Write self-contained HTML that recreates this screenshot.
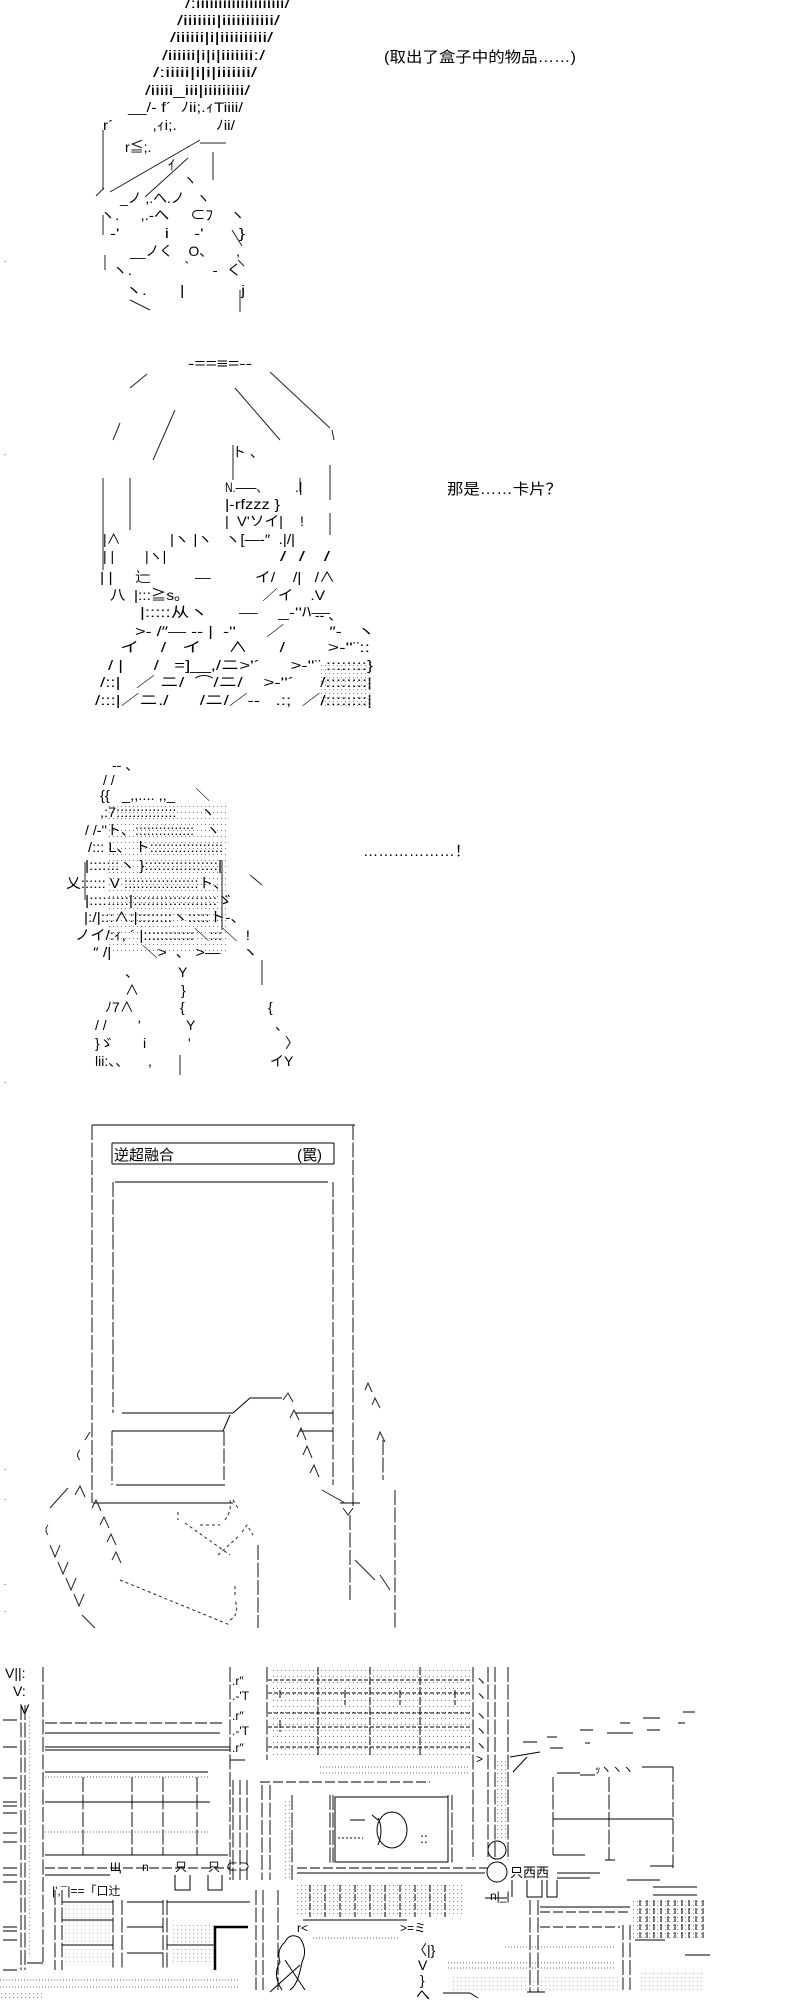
<!DOCTYPE html>
<html><head><meta charset="utf-8"><style>
html,body{margin:0;padding:0;background:#fff;width:800px;height:2000px;overflow:hidden}
svg{display:block}
text{font-family:"Liberation Sans","Noto Sans CJK SC",sans-serif;font-size:14px;fill:#000;stroke:none;white-space:pre}
.t{font-size:15px}
</style></head><body>
<svg width="800" height="2000" viewBox="0 0 800 2000" xmlns="http://www.w3.org/2000/svg">
<defs>
<pattern id="dt" width="4" height="6" patternUnits="userSpaceOnUse"><rect x="1" y="2" width="1" height="1" fill="#777"/></pattern>
<pattern id="dt2" width="4" height="4" patternUnits="userSpaceOnUse"><rect x="1" y="1" width="1" height="1" fill="#888"/></pattern>
</defs>
<g fill="none" stroke="#000" stroke-width="1">

<!-- ===== PANEL 1 ===== -->
<g stroke="#222">
<path d="M103 130 V190 M110 192 L200 140 M145 197 L188 158 M200 143 H226 M213 152 V180 M96 196 L104 188 M103 215 V235 M105 255 V270 M130 300 L150 310 M240 290 V312 M238 260 L244 266 M232 230 L242 246"/>
</g>
<text x="185" y="8" textLength="105" lengthAdjust="spacingAndGlyphs">/:iiiiiiiiiiiiiiiiiiii/</text>
<text x="177" y="25" textLength="103" lengthAdjust="spacingAndGlyphs">/iiiiiii|iiiiiiiiiii/</text>
<text x="170" y="42" textLength="103" lengthAdjust="spacingAndGlyphs">/iiiiii|i|iiiiiiiiii/</text>
<text x="162" y="60" textLength="103" lengthAdjust="spacingAndGlyphs">/iiiiii|i|i|iiiiiii:/</text>
<text x="153" y="77" textLength="104" lengthAdjust="spacingAndGlyphs">/:iiiii|i|i|iiiiiii/</text>
<text x="145" y="95" textLength="105" lengthAdjust="spacingAndGlyphs">/iiiii_iii|iiiiiiiii/</text>
<text x="128" y="112" textLength="115" lengthAdjust="spacingAndGlyphs">__/‐ f´  ﾉii;.ｨTiiii/</text>
<text x="103" y="130" textLength="132" lengthAdjust="spacingAndGlyphs">r´         ,ｨi;.         ﾉii/</text>
<text x="125" y="152">r≦;.</text>
<text x="168" y="170">ｲ</text>
<text x="183" y="185">ヽ</text>
<text x="120" y="203" textLength="90" lengthAdjust="spacingAndGlyphs">_ノ ,.へ.ノ   ヽ</text>
<text x="100" y="220" textLength="145" lengthAdjust="spacingAndGlyphs">ヽ.     ,.-へ     ⊂ﾌ    ヽ</text>
<text x="110" y="238" textLength="135" lengthAdjust="spacingAndGlyphs">-'         i     -'       }</text>
<text x="130" y="256" textLength="110" lengthAdjust="spacingAndGlyphs">__ノく    O、      ,</text>
<text x="112" y="275" textLength="130" lengthAdjust="spacingAndGlyphs">ヽ.           ｀    ‐  く</text>
<text x="125" y="295" textLength="120" lengthAdjust="spacingAndGlyphs">ヽ.       |            j</text>
<text x="4" y="262" style="font-size:8px">.</text>
<text class="t" x="384" y="62" textLength="192" lengthAdjust="spacingAndGlyphs">(取出了盒子中的物品……)</text>

<!-- ===== PANEL 2 ===== -->
<g stroke="#222">
<path d="M130 388 L147 374 M113 440 L120 423 M153 460 L175 410 M235 388 L280 440 M270 372 L330 428 M332 430 L334 440"/>
<path d="M103 478 V570 M130 478 V530 M233 445 V480 M330 465 V500 M330 513 V535 M300 478 V492"/>
</g>
<text x="188" y="368" textLength="64" lengthAdjust="spacingAndGlyphs">-==≡=--</text>
<text x="232" y="457">ト 、</text>
<text x="225" y="492" textLength="42" lengthAdjust="spacingAndGlyphs">N.――、</text>
<text x="295" y="492">.|</text>
<text x="225" y="509" textLength="55" lengthAdjust="spacingAndGlyphs">|‐rfzzz }</text>
<text x="225" y="526" textLength="58" lengthAdjust="spacingAndGlyphs">|  V'ソイ|</text>
<text x="300" y="526">!</text>
<text x="103" y="544">|∧</text>
<text x="170" y="544" textLength="125" lengthAdjust="spacingAndGlyphs">|ヽ |ヽ   ヽ[―‐″  .|/|</text>
<text x="103" y="561">| |</text>
<text x="145" y="561">|ヽ|</text>
<text x="280" y="561" textLength="50" lengthAdjust="spacingAndGlyphs">/  /   /</text>
<text x="100" y="582" textLength="235" lengthAdjust="spacingAndGlyphs">| |     辷          ―          イ/    /|   /∧</text>
<text x="110" y="600" textLength="215" lengthAdjust="spacingAndGlyphs">八  |:::≧s。                 ／イ    .V</text>
<text x="140" y="617" textLength="190" lengthAdjust="spacingAndGlyphs">|:::::从ヽ      ―    _‐''ﾊ―</text>
<text x="315" y="620">‐‐ 、</text>
<text x="135" y="636" textLength="240" lengthAdjust="spacingAndGlyphs">>‐ /″― ‐‐ |  ‐''      ／         ″‐   ヽ</text>
<text x="120" y="652" textLength="250" lengthAdjust="spacingAndGlyphs">イ    /   イ     ∧      /        >‐''¨::</text>
<text x="108" y="670" textLength="265" lengthAdjust="spacingAndGlyphs">/ |      /   =]__,/ニ>'´      >‐''¨ ::::::::}</text>
<text x="100" y="687" textLength="272" lengthAdjust="spacingAndGlyphs">/::|   ／ ニ/  ⌒/ニ/    >‐''´     /::::::::|</text>
<text x="95" y="705" textLength="277" lengthAdjust="spacingAndGlyphs">/:::|／ニ./      /ニ/／‐‐   .:;  ／/::::::::|</text>
<rect x="320" y="663" width="52" height="45" fill="url(#dt2)" stroke="none"/>
<text x="4" y="455" style="font-size:8px">.</text>
<text class="t" x="447" y="494" textLength="115" lengthAdjust="spacingAndGlyphs">那是……卡片？</text>

<!-- ===== PANEL 3 ===== -->
<rect x="108" y="805" width="120" height="150" fill="url(#dt)" stroke="none"/>
<g stroke="#222"><path d="M85 862 V900 M222 860 V930 M250 875 L262 885 M262 960 V985 M180 1055 V1075"/></g>
<text x="112" y="770">‐‐ 、</text>
<text x="103" y="785">/ /</text>
<text x="100" y="800" textLength="110" lengthAdjust="spacingAndGlyphs">{{   _,,.... ,,_     ＼</text>
<text x="100" y="817" textLength="115" lengthAdjust="spacingAndGlyphs">,:7:::::::::::::::      ヽ</text>
<text x="85" y="835" textLength="135" lengthAdjust="spacingAndGlyphs">/ /‐''ト、:::::::::::::::   ヽ</text>
<text x="88" y="852" textLength="135" lengthAdjust="spacingAndGlyphs">/::: L、 ト::::::::::::::::::</text>
<text x="85" y="870" textLength="137" lengthAdjust="spacingAndGlyphs">|:::::::ヽ }:::::::::::::::::|</text>
<text x="66" y="888" textLength="162" lengthAdjust="spacingAndGlyphs">乂:::::: V ::::::::::::::::::ト、</text>
<text x="85" y="905" textLength="148" lengthAdjust="spacingAndGlyphs">|:::::::::|:::::::::::::::::::ゞ</text>
<text x="84" y="922" textLength="162" lengthAdjust="spacingAndGlyphs">|:/|:::∧:|::::::::ヽ:::::ト‐、</text>
<text x="75" y="940" textLength="175" lengthAdjust="spacingAndGlyphs">ノイ/:ｨ, ´ |::::::::::::＼:::＼  !</text>
<text x="93" y="957" textLength="165" lengthAdjust="spacingAndGlyphs">″ /|       ＼>  、 >―     ヽ</text>
<text x="125" y="977">、</text><text x="178" y="977">Y</text>
<text x="125" y="995">∧</text><text x="181" y="995">}</text>
<text x="105" y="1012">ﾉ7∧</text><text x="180" y="1012">{</text><text x="268" y="1012">{</text>
<text x="95" y="1030">/ /</text><text x="138" y="1030">'</text><text x="186" y="1030">Y</text><text x="275" y="1030">、</text>
<text x="95" y="1048">}ゞ</text><text x="143" y="1048">i</text><text x="188" y="1048">'</text><text x="285" y="1048">〉</text>
<text x="95" y="1066">lii:、、</text><text x="148" y="1066">,</text><text x="270" y="1066">イY</text>
<text x="4" y="1083" style="font-size:8px">.</text>
<text class="t" x="363" y="856" textLength="107" lengthAdjust="spacingAndGlyphs">………………！</text>

<!-- ===== PANEL 4 ===== -->
<g stroke="#111" stroke-dasharray="15 2.5">
<path d="M92 1125 V1503 M353 1125 V1506 M113 1182 V1413 M333 1182 V1485 M112 1431 V1485 M224 1431 V1480 M350 1515 V1600 M395 1490 V1628 M258 1545 V1628 M383 1440 V1480"/>
</g>
<path d="M92 1125 H355 M112 1143 H334 M112 1164 H334 M112 1143 V1164 M334 1143 V1164 M115 1182 H328 M122 1413 H233 L250 1398 H282 M295 1413 H333 M112 1431 H223 L230 1415 M116 1485 H225 M300 1431 H333 M93 1503 H233 M340 1503 H360"/>
<text class="t" x="114" y="1160">逆超融合</text>
<text class="t" x="297" y="1160">(罠)</text>
<g stroke="#222">
<path d="M283 1400 L288 1393 L293 1402 M290 1418 L294 1410 L299 1420 M297 1437 L301 1428 L306 1440 M303 1455 L307 1446 L312 1458 M310 1473 L314 1465 L319 1477 M322 1490 L345 1503"/>
<path d="M377 1440 L380 1432 L385 1442 M365 1390 L368 1383 L372 1392 M372 1405 L375 1398 L380 1408"/>
<path d="M343 1508 L348 1515 L353 1508 M355 1560 L375 1580 M380 1575 L390 1590"/>
<path d="M85 1440 L90 1432 M80 1460 Q75 1455 80 1450 M75 1495 L80 1486 L85 1497 M92 1508 L96 1500 L101 1511 M100 1525 L104 1517 L109 1528 M107 1542 L111 1534 L116 1545 M112 1560 L116 1552 L121 1563 M50 1508 L68 1488 M48 1525 Q44 1530 48 1535 M50 1545 L55 1557 L60 1545 M58 1562 L63 1574 L68 1562 M66 1578 L71 1590 L76 1578 M74 1594 L79 1606 L84 1594 M82 1615 L95 1628"/>
<path d="M120 1580 L230 1625 M230 1620 Q240 1615 235 1600 M235 1595 V1585 M185 1523 L230 1555 M178 1512 V1520 M200 1525 H220 M225 1520 Q232 1510 230 1500 M233 1500 L238 1508 M218 1555 L240 1535 M242 1532 L247 1525 L253 1535" stroke-dasharray="3 3"/>
</g>
<text x="4" y="1470" style="font-size:8px">.</text><text x="4" y="1500" style="font-size:8px">.</text>
<text x="4" y="1585" style="font-size:8px">.</text><text x="4" y="1612" style="font-size:8px">.</text>

<!-- ===== PANEL 5 ===== -->
<text x="5" y="1678">V||:</text><text x="13" y="1696">V:</text><text x="20" y="1714">V</text>
<g stroke="#111" stroke-dasharray="15 2.5">
<path d="M21 1705 V1970 M25 1705 V1970 M43 1667 V1965 M230 1667 V1880 M267 1667 V1760 M233 1780 V1880 M240 1780 V1880 M247 1780 V1880 M262 1785 V1880 M270 1785 V1880 M292 1795 V1880 M473 1667 V1860 M488 1667 V1860 M495 1667 V1860 M508 1667 V1860 M330 1795 V1863 M333 1795 V1863 M448 1795 V1863 M452 1795 V1863 M55 1890 V1970 M62 1890 V1970 M113 1900 V1970 M122 1900 V1970 M163 1900 V1970 M167 1900 V1970 M256 1890 V1990 M263 1890 V1990 M278 1890 V1990 M553 1777 V1855 M609 1777 V1860 M673 1767 V1868 M530 1900 V1992 M538 1900 V1992 M623 1925 V1990 M630 1925 V1990 M83 1777 V1855 M132 1777 V1855 M163 1777 V1855 M197 1777 V1855"/>
</g>
<path d="M3 1720 H17 M3 1747 H17 M3 1778 H17 M3 1802 H17 M3 1806 H17 M3 1813 H17 M3 1833 H17 M3 1842 H17 M3 1868 H17 M3 1875 H17 M3 1882 H17 M3 1927 H17 M3 1931 H17 M3 1940 H17 M3 1970 H17 M27 1963 H43"/>
<path d="M45 1723 H222" stroke-dasharray="12 3"/>
<path d="M45 1733 H220 M45 1747 H230 M45 1750 H230 M45 1772 H208 M45 1802 H210 M45 1855 H228 M45 1875 H110 M297 1873 H485 M62 1902 H113 M127 1902 H163 M167 1902 H250 M62 1920 H113 M127 1927 H163 M62 1945 H113 M167 1945 H215 M127 1953 H163 M303 1920 H407 M540 1907 H630 M557 1773 H580 M642 1767 H673 M553 1819 H673 M553 1855 H585 M650 1866 H673 M230 1760 H245"/>
<path d="M45 1777 H210 M45 1832 H210 M320 1767 H470 M320 1773 H470 M313 1938 H400 M0 1980 H240 M0 1987 H240 M505 1947 H615 M448 1963 H615 M448 1968 H615" stroke="#666" stroke-dasharray="1 2"/>
<path d="M45 1868 H230 M297 1868 H488 M540 1912 H630 M540 1927 H620 M260 1782 H430" stroke-dasharray="10 3"/>
<path d="M215 1970 V1927 H248" stroke-width="2.5"/>
<rect x="270" y="1670" width="200" height="85" fill="url(#dt)" stroke="none"/>
<path d="M268 1680 H470 M268 1693 H470 M268 1713 H470 M268 1727 H470 M268 1747 H470" stroke-dasharray="4 2"/>
<path d="M318 1667 V1755 M370 1667 V1755 M420 1667 V1755 M280 1690 V1700 M280 1720 V1732 M345 1690 V1705 M400 1690 V1705 M455 1690 V1705" stroke-dasharray="8 2"/>
<text x="232" y="1685" style="font-size:12px">.r″</text><text x="232" y="1700" style="font-size:12px">.‐'T</text>
<text x="232" y="1720" style="font-size:12px">.r″</text><text x="232" y="1735" style="font-size:12px">.‐'T</text>
<text x="232" y="1752" style="font-size:12px">.r″</text>
<text x="475" y="1685" style="font-size:12px">ヽ</text><text x="475" y="1700" style="font-size:12px">ヽ</text><text x="475" y="1720" style="font-size:12px">ヽ</text><text x="475" y="1735" style="font-size:12px">ヽ</text><text x="475" y="1750" style="font-size:12px">ヽ</text>
<text x="476" y="1763" style="font-size:12px">&gt;</text>
<path d="M513 1772 L527 1757 M510 1757 L540 1752"/>
<rect x="285" y="1800" width="7" height="80" fill="url(#dt2)" stroke="none"/>
<rect x="495" y="1760" width="13" height="80" fill="url(#dt2)" stroke="none"/>
<path d="M335 1797 H448 V1862 H335 Z"/>
<path d="M350 1820 H365"/>
<path d="M338 1838 H363" stroke-dasharray="2 2"/>
<ellipse cx="392" cy="1830" rx="15" ry="18"/>
<path d="M378 1818 Q384 1830 378 1845 M372 1815 L378 1820"/>
<text x="420" y="1843">::</text>
<rect x="295" y="1885" width="170" height="32" fill="url(#dt2)" stroke="none"/>
<path d="M310 1885 V1917 M325 1885 V1917 M340 1885 V1917 M355 1885 V1917 M370 1885 V1917 M385 1885 V1917 M400 1885 V1917 M415 1885 V1917 M430 1885 V1917 M445 1885 V1917" stroke-dasharray="7 2"/>
<text x="297" y="1932" style="font-size:12px">r&lt;</text>
<text x="400" y="1932" style="font-size:12px">&gt;=ミ</text>
<rect x="62" y="1905" width="50" height="60" fill="url(#dt2)" stroke="none" opacity="0.5"/>
<rect x="170" y="1925" width="45" height="40" fill="url(#dt2)" stroke="none" opacity="0.7"/>
<rect x="28" y="1715" width="4" height="240" fill="url(#dt2)" stroke="none"/>
<text x="110" y="1871" style="font-size:12px">Щ</text><text x="142" y="1871" style="font-size:12px">n</text>
<text x="175" y="1871" style="font-size:12px">只</text><text x="208" y="1871" style="font-size:12px">只</text>
<text x="226" y="1871" style="font-size:12px">⊂⊃</text>
<text x="52" y="1895" style="font-size:12px">|',¯|==「口辻</text>
<path d="M175 1875 V1890 H190 V1875 M208 1875 V1890 H222 V1875"/>
<path d="M285 1942 Q290 1932 300 1938 Q308 1950 302 1962 Q298 1985 290 1990 M282 1990 Q272 1975 280 1962 Q276 1950 285 1942 M270 1992 L300 1965 M285 1960 L305 1990"/>
<text x="413" y="1955">〈|}</text><text x="418" y="1970">V</text><text x="420" y="1985">}</text><text x="416" y="2000">へ</text>
<path d="M443 1993 H470 L478 1998"/>
<circle cx="497" cy="1850" r="9"/><circle cx="497" cy="1872" r="10"/>
<text x="510" y="1877" style="font-size:13px">只西西</text>
<path d="M512 1880 V1897 M527 1880 V1897 H542 V1880 M547 1880 V1897 H557 V1880"/>
<path d="M557 1873 H600 M557 1878 H590 M627 1880 H660 M653 1887 H697 M653 1895 H697 M485 1898 H507"/>
<text x="490" y="1900" style="font-size:12px">n|_|</text>
<path d="M523 1742 H537 M547 1737 H557 M550 1748 H563 M580 1730 H593 M607 1733 H633 M620 1723 H630 M643 1718 H660 M647 1730 H660 M683 1712 H695 M585 1743 H590 M678 1723 H685"/>
<text x="595" y="1773" style="font-size:11px">ｯヽヽヽ</text>
<path d="M580 1775 H595 M605 1860 H615"/>
<rect x="633" y="1900" width="72" height="40" fill="url(#dt2)" stroke="none"/>
<path d="M640 1900 V1940 M647 1900 V1940 M654 1900 V1940 M661 1900 V1940 M668 1900 V1940 M675 1900 V1940 M682 1900 V1940 M689 1900 V1940 M696 1900 V1940 M703 1900 V1940" stroke-dasharray="6 2"/>
<path d="M635 1940 H665 M685 1955 H710 M545 1992 H527"/>
<rect x="450" y="1975" width="170" height="15" fill="url(#dt2)" stroke="none" opacity="0.6"/>
<rect x="640" y="1972" width="65" height="20" fill="url(#dt2)" stroke="none" opacity="0.6"/>
<rect x="0" y="1993" width="45" height="5" fill="url(#dt2)" stroke="none"/>
</g>
</svg>
</body></html>
